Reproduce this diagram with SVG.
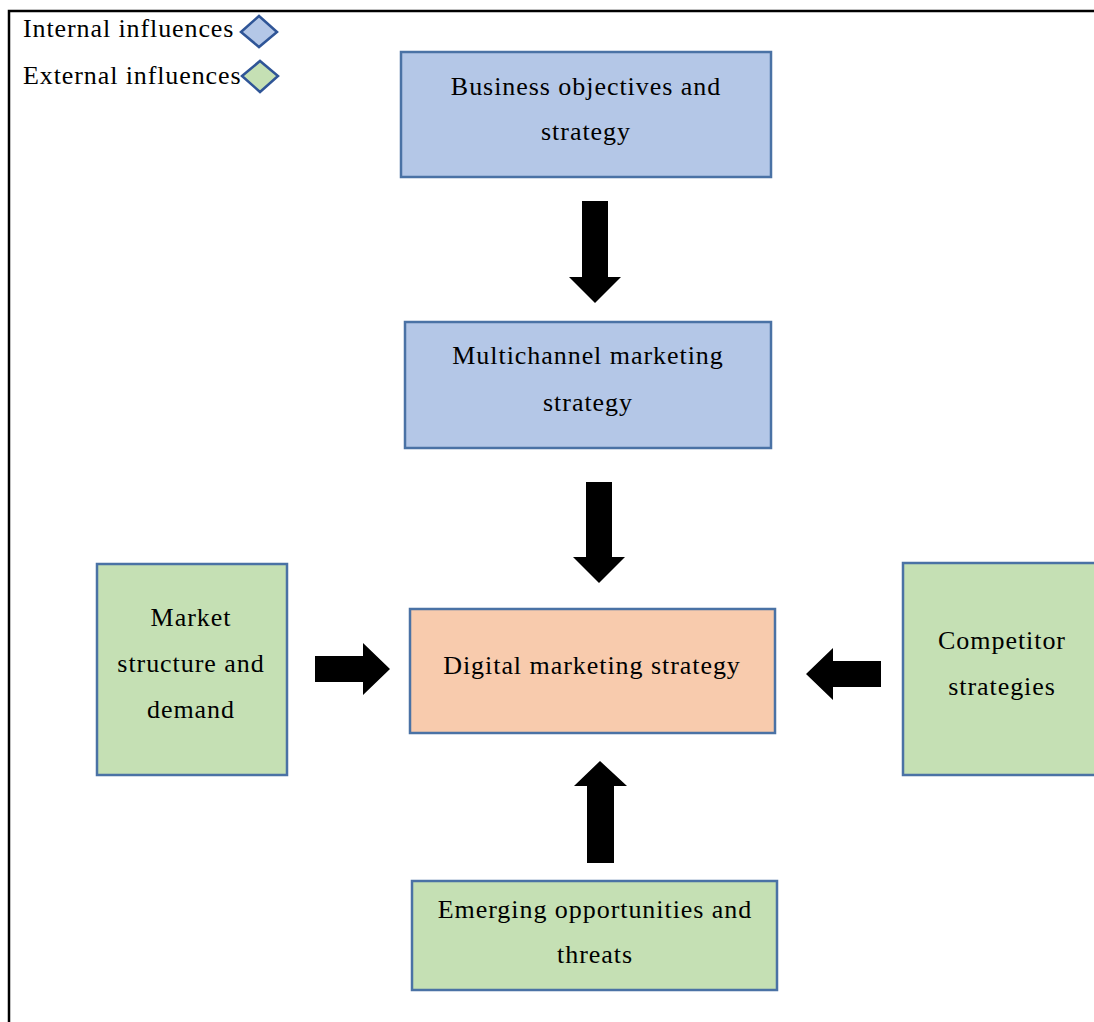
<svg xmlns="http://www.w3.org/2000/svg" width="1094" height="1022" viewBox="0 0 1094 1022">
<style>
.box{stroke:#4a72a5;stroke-width:2.5}
.blue{fill:#b4c7e7}
.green{fill:#c5e0b4}
.peach{fill:#f8cbad}
.t{font-family:"Liberation Serif","Times New Roman",serif;font-size:26px;letter-spacing:0.95px;fill:#000;text-anchor:middle}
.lg{font-family:"Liberation Serif","Times New Roman",serif;font-size:26px;letter-spacing:0.9px;fill:#000}
.dm{stroke:#2f5597;stroke-width:2.5}
.arr{fill:#000}
</style>
<rect width="1094" height="1022" fill="#fff"/>
<g id="frame">
<path d="M9,1022 V11 H1094" fill="none" stroke="#000" stroke-width="2.5"/>
</g>
<g id="legend">
<text class="lg" x="23" y="37">Internal influences</text>
<polygon class="dm blue" points="241,32 259,16 277,32 259,47"/>
<text class="lg" x="23" y="84">External influences</text>
<polygon class="dm green" points="242,76 260,61 278,76 260,92"/>
</g>
<g id="business">
<rect class="box blue" x="401" y="52" width="370" height="125"/>
<text class="t" x="586" y="95">Business objectives and</text>
<text class="t" x="586" y="140">strategy</text>
</g>
<g id="multichannel">
<rect class="box blue" x="405" y="322" width="366" height="126"/>
<text class="t" x="588" y="364">Multichannel marketing</text>
<text class="t" x="588" y="411">strategy</text>
</g>
<g id="digital">
<rect class="box peach" x="410" y="609" width="365" height="124"/>
<text class="t" x="592" y="674">Digital marketing strategy</text>
</g>
<g id="market">
<rect class="box green" x="97" y="564" width="190" height="211"/>
<text class="t" x="191" y="626">Market</text>
<text class="t" x="191" y="672">structure and</text>
<text class="t" x="191" y="718">demand</text>
</g>
<g id="competitor">
<rect class="box green" x="903" y="563" width="200" height="212"/>
<text class="t" x="1002" y="649">Competitor</text>
<text class="t" x="1002" y="695">strategies</text>
</g>
<g id="emerging">
<rect class="box green" x="412" y="881" width="365" height="109"/>
<text class="t" x="595" y="918">Emerging opportunities and</text>
<text class="t" x="595" y="963">threats</text>
</g>
<g id="connectors">
<polygon class="arr" points="582,201 608,201 608,277 621,277 595,303 569,277 582,277"/>
<polygon class="arr" points="586,482 612,482 612,557 625,557 599,583 573,557 586,557"/>
<polygon class="arr" points="587,863 614,863 614,786 627,786 600,761 574,786 587,786"/>
<polygon class="arr" points="315,656 363,656 363,643 390,669 363,695 363,682 315,682"/>
<polygon class="arr" points="881,661 833,661 833,648 806,674 833,700 833,687 881,687"/>
</g>
</svg>
